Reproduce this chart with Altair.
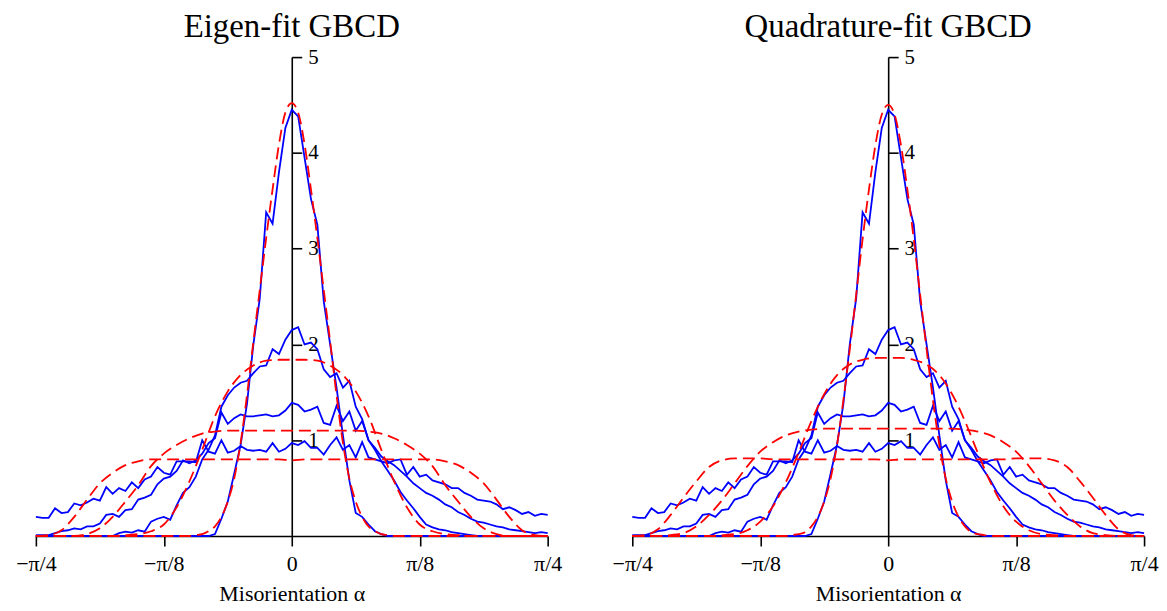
import math
import numpy as np
import pandas as pd
import altair as alt

# ---------------- data (x in units of pi/4) ----------------
# measured GBCD sections: histogram bins across the misorientation range
T_MEAS = np.round(np.linspace(-1.0, 1.0, 81), 4)

MEAS_1 = [0] * 28 + [0.02, 0.18, 0.36, 0.65, 0.95, 1.38, 2.0, 2.48, 3.38, 3.26, 3.8, 4.26,
                     4.45, 4.38, 3.95, 3.52, 3.25, 2.45, 2.0, 1.55, 1.05, 0.58, 0.24, 0.2,
                     0.12, 0.05, 0.02] + [0] * 26

MEAS_2 = [0] * 13 + [0.03, 0.045, 0.035, 0.06, 0.045, 0.15, 0.18, 0.2, 0.17, 0.32, 0.45, 0.51,
                     0.62, 0.8, 0.9, 1.05, 1.35, 1.47, 1.55, 1.6, 1.62, 1.7, 1.77, 1.78, 1.95,
                     1.9, 2.05, 2.15, 2.18, 2.0, 2.02, 1.95, 1.74, 1.66, 1.7, 1.55, 1.62, 1.35,
                     1.22, 1.0, 0.9, 0.78, 0.68, 0.58, 0.46, 0.37, 0.29, 0.2, 0.12, 0.09, 0.07,
                     0.06, 0.04, 0.03, 0.02, 0.01] + [0] * 12

MEAS_3 = [0.01, 0.01, 0.01, 0.03, 0.05, 0.06, 0.08, 0.07, 0.1, 0.1,
          0.13, 0.22, 0.23, 0.2, 0.27, 0.28, 0.38, 0.4, 0.43, 0.54,
          0.6, 0.62, 0.68, 0.79, 0.76, 0.79, 0.86, 0.97, 1.02, 1.29,
          1.17, 1.23, 1.27, 1.25, 1.25, 1.26, 1.27, 1.25, 1.26, 1.31,
          1.39, 1.37, 1.3, 1.32, 1.35, 1.18, 1.16, 1.36, 1.2, 1.3,
          1.1, 1.2, 1.0, 0.92, 0.83, 0.78, 0.74, 0.68, 0.62, 0.55,
          0.5, 0.45, 0.42, 0.38, 0.33, 0.3, 0.25, 0.22, 0.18, 0.15,
          0.14, 0.12, 0.1, 0.09, 0.07, 0.06, 0.05, 0.04, 0.03, 0.04,
          0.03]

MEAS_4 = [0.2, 0.19, 0.19, 0.29, 0.24, 0.25, 0.34, 0.32, 0.35, 0.39,
          0.37, 0.51, 0.44, 0.5, 0.47, 0.56, 0.5, 0.59, 0.62, 0.72,
          0.66, 0.64, 0.78, 0.78, 0.78, 0.77, 1.0, 0.88, 0.86, 1.0,
          0.87, 0.89, 0.94, 0.9, 0.89, 0.9, 0.88, 0.97, 0.88, 0.91,
          0.97, 0.95, 0.99, 0.92, 0.92, 0.85, 0.95, 1.03, 0.9, 0.95,
          0.82, 0.98, 0.82, 0.8, 0.78, 0.76, 0.79, 0.8, 0.64, 0.72,
          0.62, 0.64, 0.58, 0.56, 0.54, 0.5, 0.5, 0.45, 0.42, 0.38,
          0.37, 0.36, 0.33, 0.28, 0.3, 0.27, 0.23, 0.25, 0.21, 0.23,
          0.22]

# fitted curves
T_FIT_NARROW = [-1.0, -0.5, -0.4, -0.375, -0.35, -0.325, -0.3, -0.275, -0.25, -0.225, -0.2,
                -0.175, -0.15, -0.125, -0.1, -0.075, -0.05, -0.025, 0.0, 0.025, 0.05, 0.075,
                0.1, 0.125, 0.15, 0.175, 0.2, 0.225, 0.25, 0.275, 0.3, 0.325, 0.35, 0.375,
                0.4, 0.5, 1.0]
T_FIT = np.round(np.linspace(-1.0, 1.0, 41), 4)

EIGEN_1 = [0, 0, 0, 0.01, 0.02, 0.05, 0.1, 0.2, 0.36, 0.6, 0.97, 1.47, 2.03, 2.57, 3.11, 3.62,
           4.09, 4.42, 4.52, 4.42, 4.09, 3.62, 3.11, 2.57, 2.03, 1.47, 0.97, 0.6, 0.36, 0.2,
           0.1, 0.05, 0.02, 0.01, 0, 0, 0]
EIGEN_2 = [0] * 7 + [0.01, 0.02, 0.05, 0.12, 0.3, 0.57, 0.9, 1.25, 1.51, 1.68, 1.78, 1.83, 1.84,
                     1.84,
                     1.84, 1.83, 1.78, 1.68, 1.51, 1.25, 0.9, 0.57, 0.3, 0.12, 0.05, 0.02,
                     0.01] + [0] * 7
EIGEN_3 = [0] * 4 + [0.02, 0.08, 0.2, 0.36, 0.53, 0.73, 0.86, 0.95, 1.02, 1.07, 1.09, 1.1, 1.1,
                     1.1, 1.1, 1.1,
                     1.1,
                     1.1, 1.1, 1.1, 1.1, 1.1, 1.09, 1.07, 1.02, 0.95, 0.86, 0.73, 0.53, 0.36,
                     0.2, 0.08, 0.02] + [0] * 4
EIGEN_4 = [0, 0.01, 0.06, 0.2, 0.38, 0.55, 0.66, 0.74, 0.78, 0.8, 0.8, 0.8, 0.8, 0.8, 0.8, 0.8,
           0.8, 0.8, 0.8, 0.8,
           0.79,
           0.8, 0.8, 0.8, 0.8, 0.8, 0.8, 0.8, 0.8, 0.8, 0.8, 0.8, 0.78, 0.74, 0.66, 0.55, 0.38,
           0.2, 0.06, 0.01, 0]

QUAD_1 = [0, 0, 0, 0.01, 0.02, 0.04, 0.1, 0.2, 0.36, 0.6, 0.95, 1.42, 1.95, 2.52, 3.1, 3.62,
          4.08, 4.4, 4.5, 4.4, 4.08, 3.62, 3.1, 2.52, 1.95, 1.42, 0.95, 0.6, 0.36, 0.2, 0.1,
          0.04, 0.02, 0.01, 0, 0, 0]
QUAD_2 = [0] * 7 + [0.01, 0.02, 0.06, 0.15, 0.31, 0.56, 0.87, 1.2, 1.48, 1.68, 1.79, 1.84, 1.86,
                    1.86,
                    1.86, 1.84, 1.79, 1.68, 1.48, 1.2, 0.87, 0.56, 0.31, 0.15, 0.06, 0.02,
                    0.01] + [0] * 7
QUAD_3 = [0] * 3 + [0.01, 0.03, 0.1, 0.22, 0.37, 0.55, 0.73, 0.88, 0.98, 1.05, 1.09, 1.11, 1.12,
                    1.12, 1.12, 1.12, 1.12,
                    1.12,
                    1.12, 1.12, 1.12, 1.12, 1.12, 1.11, 1.09, 1.05, 0.98, 0.88, 0.73, 0.55,
                    0.37, 0.22, 0.1, 0.03, 0.01] + [0] * 3
QUAD_4 = [0, 0.01, 0.07, 0.22, 0.4, 0.57, 0.72, 0.79, 0.81, 0.81, 0.81, 0.8, 0.8, 0.8, 0.8, 0.8,
          0.8, 0.8, 0.8, 0.8,
          0.79,
          0.8, 0.8, 0.8, 0.8, 0.8, 0.8, 0.8, 0.8, 0.8, 0.81, 0.81, 0.81, 0.79, 0.72, 0.57, 0.4,
          0.22, 0.07, 0.01, 0]

TITLES = ["Eigen-fit GBCD", "Quadrature-fit GBCD"]
X_TITLE = "Misorientation α"
Y_TICKS = [1, 2, 3, 4, 5]

# ---------------- tables ----------------
Q = math.pi / 4.0


def frame(ts, ys, name):
    return pd.DataFrame({"x": np.asarray(ts, dtype=float) * Q,
                         "y": np.asarray(ys, dtype=float), "series": name})


meas = pd.concat([frame(T_MEAS, v, f"m{i}") for i, v in
                  enumerate([MEAS_1, MEAS_2, MEAS_3, MEAS_4])], ignore_index=True)


def fits(c1, c2, c3, c4):
    return pd.concat([frame(T_FIT_NARROW, c1, "f1"), frame(T_FIT, c2, "f2"),
                      frame(T_FIT, c3, "f3"), frame(T_FIT, c4, "f4")], ignore_index=True)


fit_eigen = fits(EIGEN_1, EIGEN_2, EIGEN_3, EIGEN_4)
fit_quad = fits(QUAD_1, QUAD_2, QUAD_3, QUAD_4)

# ---------------- chart ----------------
W, H = 514, 481
FONT = "Liberation Serif"
k = "round(datum.value*8/PI)"
label_expr = (f"{k}==-2?'−π/4':{k}==-1?'−π/8':{k}==0?'0':{k}==1?'π/8':'π/4'")

x_enc = alt.X("x:Q",
              scale=alt.Scale(domain=[-Q, Q], nice=False, zero=False),
              axis=alt.Axis(values=[-Q, -Q / 2, 0, Q / 2, Q], labelExpr=label_expr,
                            title=X_TITLE, grid=False, tickSize=10, labelPadding=8,
                            titlePadding=9, labelFlush=False, labelFontSize=22,
                            titleFontSize=22))
y_enc = alt.Y("y:Q",
              scale=alt.Scale(domain=[0, 5], nice=False, zero=True),
              axis=alt.Axis(orient="right", offset=-W / 2, values=Y_TICKS, title=None,
                            grid=False, tickSize=10, labelPadding=6, labelFontSize=21,
                            labelOverlap=False))


def panel(title, fit_df):
    blue = alt.Chart(meas).mark_line(color="#0000ff", strokeWidth=1.8).encode(
        x=x_enc, y=y_enc, detail="series:N")
    red = alt.Chart(fit_df).mark_line(color="#ff0000", strokeWidth=1.8,
                                      strokeDash=[12, 6], interpolate="monotone").encode(
        x=x_enc, y=y_enc, detail="series:N")
    return alt.layer(blue, red).properties(
        width=W, height=H,
        title=alt.TitleParams(title, fontSize=33, font=FONT, fontWeight="normal",
                              color="black", anchor="middle", offset=2))


chart = alt.hconcat(panel(TITLES[0], fit_eigen), panel(TITLES[1], fit_quad),
                    spacing=49).properties(
    padding={"left": 7, "top": 2, "right": 0, "bottom": 0}
).configure_view(stroke=None).configure_axis(
    labelFont=FONT, titleFont=FONT, labelColor="black", titleColor="black",
    titleFontWeight="normal", domainColor="black", tickColor="black",
    domainWidth=1.6, tickWidth=1.6
)

chart.save("out.html", embed_options={"renderer": "svg", "actions": False})
